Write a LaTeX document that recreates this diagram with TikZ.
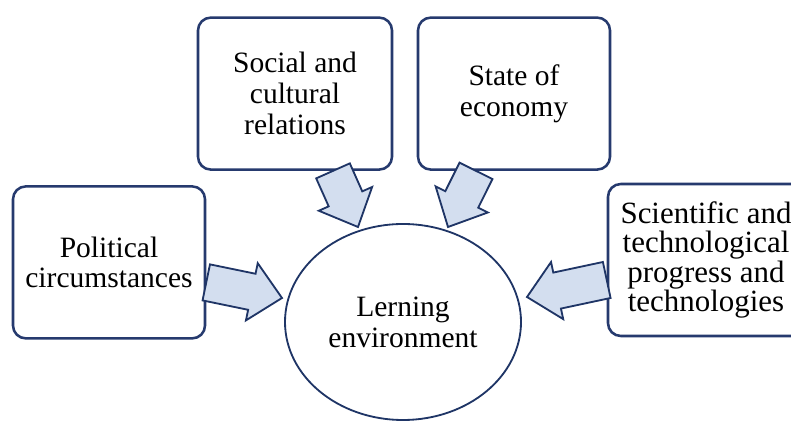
\documentclass[tikz,border=0pt]{standalone}
\usepackage{xcolor}
\usepackage{fontspec}
\setmainfont{Liberation Serif}
\usetikzlibrary{shapes.geometric}
\usetikzlibrary{calc}

\definecolor{boxline}{HTML}{263A6E}
\definecolor{arrowfill}{HTML}{D3DEEF}
\definecolor{arrowline}{HTML}{1F3566}

\tikzset{
	factor/.style={draw=boxline, line width=1.8pt, rounded corners=0.32cm, fill=white,
		align=center, inner sep=0pt, minimum width=4.8cm, minimum height=3.8cm,
		font=\fontsize{21}{22}\selectfont},
	fatarrow/.style={draw=arrowline, fill=arrowfill, line width=1.3pt, line join=miter}
}

% block arrow from #1 to #2
\newcommand{\blockarrow}[2]{%
	\coordinate (base) at ($(#2)!0.77cm!(#1)$);
	\draw[fatarrow] ($(#1)!0.46cm!90:(#2)$) -- ($(base)!0.46cm!90:(#2)$)
		-- ($(base)!0.73cm!90:(#2)$) -- (#2) -- ($(base)!0.73cm!-90:(#2)$)
		-- ($(base)!0.46cm!-90:(#2)$) -- ($(#1)!0.46cm!-90:(#2)$) -- cycle;}

\begin{document}
\begin{tikzpicture}

	\useasboundingbox (0,0) rectangle (19.775,10.6);

	% factor boxes
	\node[factor] (pol) at (2.725,4.04) {Political\\circumstances};
	\node[factor, minimum width=4.85cm] (soc) at (7.375,8.26) {Social and\\cultural\\relations};
	\node[factor] (eco) at (12.85,8.26) {State of\\economy};
	\node[factor, minimum width=4.9cm, font=\fontsize{22}{21}\selectfont] (sci) at (17.65,4.1) {Scientific and\\technological\\progress and\\technologies};

	% centre
	\node[ellipse, draw=arrowline, line width=1.3pt, minimum width=5.9cm, minimum height=4.9cm,
		align=center, font=\fontsize{21}{22}\selectfont] (env) at (10.075,2.55) {Lerning\\environment};

	% arrow ends
	\coordinate (pol-out) at ($(pol.east)+(0,-0.5)$);
	\coordinate (soc-out) at ($(soc.south)+(0.95,0)$);
	\coordinate (eco-out) at ($(eco.south)+(-0.95,0)$);
	\coordinate (sci-out) at ($(sci.west)+(0,-0.5)$);
	\coordinate (pol-tip) at (7.05,3.15);
	\coordinate (soc-tip) at (8.95,4.925);
	\coordinate (eco-tip) at (11.2,4.925);
	\coordinate (sci-tip) at (13.175,3.175);

	% arrows
	\blockarrow{pol-out}{pol-tip}
	\blockarrow{soc-out}{soc-tip}
	\blockarrow{eco-out}{eco-tip}
	\blockarrow{sci-out}{sci-tip}
\end{tikzpicture}
\end{document}
